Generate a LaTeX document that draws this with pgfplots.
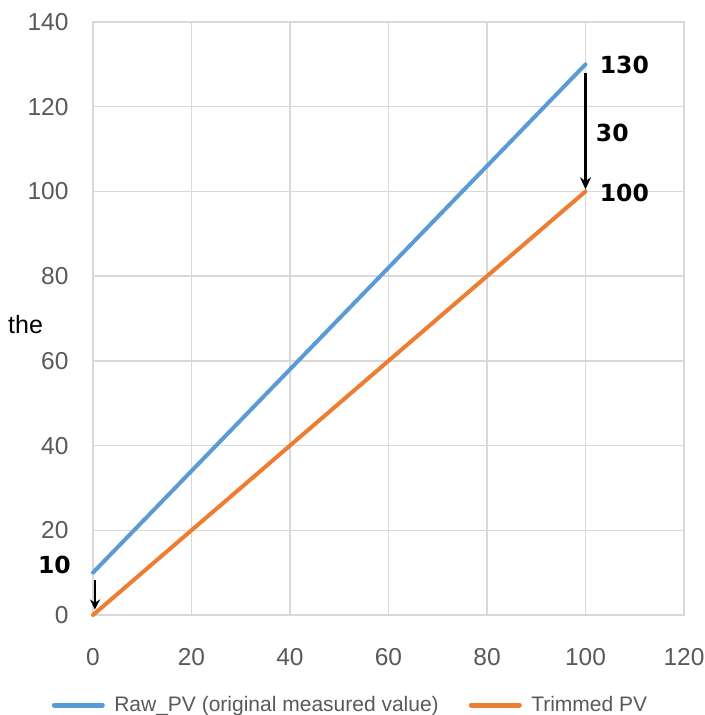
\documentclass[border=0pt]{standalone}
\usepackage{fontspec}
\setmainfont{Liberation Sans}
\newfontfamily\annfont{DejaVu Sans}
\usepackage{pgfplots}
\pgfplotsset{compat=1.18}
\usepackage{pgfplotstable}
\usetikzlibrary{arrows.meta}
\definecolor{rawblue}{HTML}{5B9BD5}
\definecolor{trimorange}{HTML}{ED7D31}
\definecolor{gridgray}{HTML}{D9D9D9}
\definecolor{ticklab}{HTML}{595959}
\pgfplotstableread{
x y
0 10
20 34
40 58
60 82
80 106
100 130
}\rawdata
\pgfplotstableread{
x y
0 0
20 20
40 40
60 60
80 80
100 100
}\trimdata
\begin{document}
\begin{tikzpicture}
\useasboundingbox (-93bp,-100bp) rectangle (612bp,615bp);
\begin{axis}[
  at={(0,0)}, anchor=south west,
  scale only axis, width=591bp, height=593bp,
  xmin=0, xmax=120, ymin=0, ymax=140,
  xtick={0,20,...,120}, ytick={0,20,...,140},
  grid=major, major grid style={gridgray, line width=1.3bp},
  axis line style={gridgray, line width=1.3bp},
  tick style={draw=none},
  /pgf/number format/assume math mode=true,
  ticklabel style={font=\fontsize{24.5bp}{28bp}\selectfont, text=ticklab},
  xticklabel style={anchor=center, yshift=-42bp},
  yticklabel style={anchor=east, xshift=-21bp},
  ylabel={the},
  ylabel style={rotate=-90, at={(axis description cs:-0.114,0.489)}, anchor=center, font=\fontsize{25bp}{29bp}\selectfont},
  clip=false,
  legend columns=2,
  legend style={at={(axis description cs:0.4357,-0.1518)}, anchor=center, draw=none, fill=none,
    font=\fontsize{21bp}{24bp}\selectfont, text=ticklab,
    /tikz/every even column/.append style={column sep=28bp}},
  legend cell align=left,
  legend image code/.code={\draw[#1, line width=5bp] (0bp,0bp) -- (48bp,0bp); \path (56bp,0bp);},
]
\addplot[rawblue, line width=4bp, line cap=round] table[x=x,y=y] {\rawdata};
\addlegendentry{Raw\_PV (original measured value)}
\addplot[trimorange, line width=4bp, line cap=round] table[x=x,y=y] {\trimdata};
\addlegendentry{Trimmed PV}
\node[anchor=west, font=\annfont\bfseries\fontsize{23.5bp}{27bp}\selectfont] at (axis cs:102.2,129.8) {130};
\node[anchor=west, font=\annfont\bfseries\fontsize{23.5bp}{27bp}\selectfont] at (axis cs:102.2,99.6) {100};
\node[anchor=west, font=\annfont\bfseries\fontsize{23.5bp}{27bp}\selectfont] at (axis cs:101.4,113.8) {30};
\node[anchor=east, font=\annfont\bfseries\fontsize{23.5bp}{27bp}\selectfont] at (axis cs:-3.8,11.8) {10};
\draw[-{Stealth[length=12bp,width=11bp]}, line width=2.2bp] (axis cs:100,128) -- (axis cs:100,100.5);
\draw[-{Stealth[length=10bp,width=10bp]}, line width=2.2bp] (axis cs:0.4,8.3) -- (axis cs:0.4,1.3);
\end{axis}
\end{tikzpicture}
\end{document}
